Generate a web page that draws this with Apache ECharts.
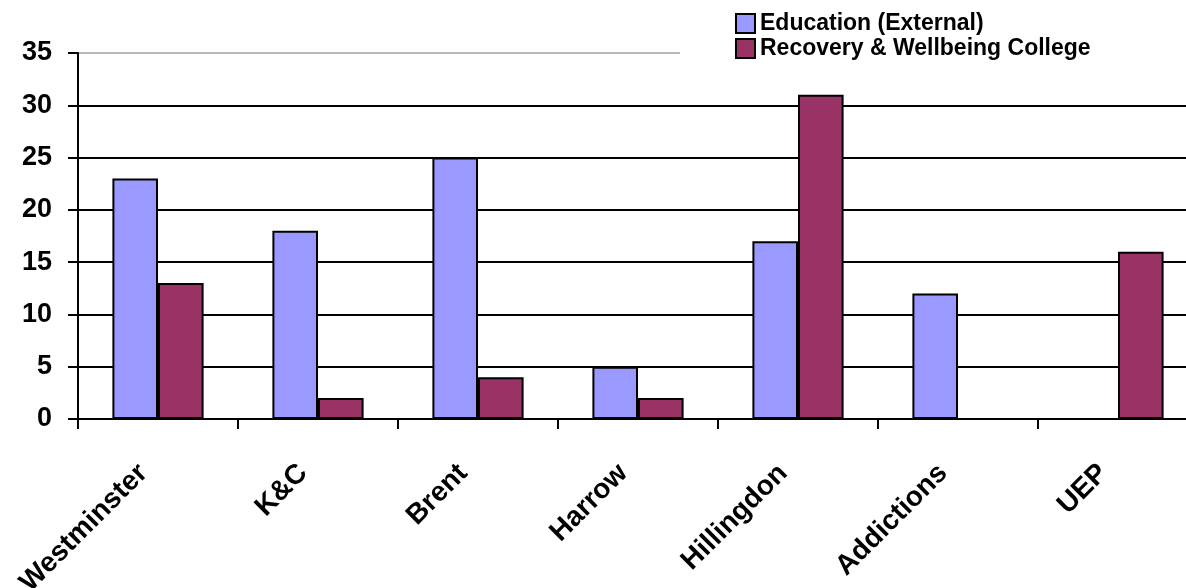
<!DOCTYPE html>
<html><head><meta charset="utf-8">
<script src="https://cdn.jsdelivr.net/npm/echarts@6/dist/echarts.min.js"></script>
<style>html,body{margin:0;padding:0;background:#fff}#c{width:1186px;height:588px}</style>
</head><body><div id="c"></div>
<script>
const categories = ['Westminster', 'K&C', 'Brent', 'Harrow', 'Hillingdon', 'Addictions', 'UEP'];
const seriesNames = ['Education (External)', 'Recovery & Wellbeing College'];
const education = [23, 18, 25, 5, 17, 12, null];
const recovery = [13, 2, 4, 2, 31, null, 16];
const yTicks = [0, 5, 10, 15, 20, 25, 30, 35];

const chart = echarts.init(document.getElementById('c'), null, {renderer: 'canvas'});
const gridColors = yTicks.map((v, i) => i === yTicks.length - 1 ? '#b8b8b8' : '#000');
chart.setOption({
  animation: false,
  backgroundColor: '#fff',
  grid: {left: 78, width: 1120, top: 53, height: 366, containLabel: false, outerBoundsMode: 'none'},
  legend: {
    left: 680, top: 6, orient: 'vertical', itemGap: 0,
    itemWidth: 19, itemHeight: 19,
    padding: [5, 200, 5, 55],
    backgroundColor: '#fff',
    icon: 'rect',
    textStyle: {fontFamily: 'Liberation Sans', fontWeight: 'bold', fontSize: 23, color: '#000', lineHeight: 25},
    data: seriesNames
  },
  xAxis: {
    type: 'category', data: categories,
    axisLine: {lineStyle: {color: '#000', width: 2}},
    axisTick: {show: true, length: 10, lineStyle: {color: '#000', width: 2}},
    axisLabel: {rotate: 45, margin: 35, interval: 0, padding: [0, 21, 0, 0], fontFamily: 'Liberation Sans', fontWeight: 'bold', fontSize: 28, color: '#000'}
  },
  yAxis: {
    type: 'value', min: 0, max: 35, interval: 5,
    axisLine: {show: true, lineStyle: {color: '#000', width: 2}},
    axisTick: {show: true, length: 10, lineStyle: {color: '#000', width: 2}},
    axisLabel: {margin: 26, fontFamily: 'Liberation Sans', fontWeight: 'bold', fontSize: 27, color: '#000'},
    splitLine: {show: true, lineStyle: {color: gridColors, width: 2}}
  },
  series: [
    {name: seriesNames[0], type: 'bar', data: education, barGap: '0%', barCategoryGap: '43%',
     itemStyle: {color: '#9999FF', borderColor: '#000', borderWidth: 2}},
    {name: seriesNames[1], type: 'bar', data: recovery, barGap: '0%', barCategoryGap: '43%',
     itemStyle: {color: '#993366', borderColor: '#000', borderWidth: 2}}
  ]
});
</script></body></html>
